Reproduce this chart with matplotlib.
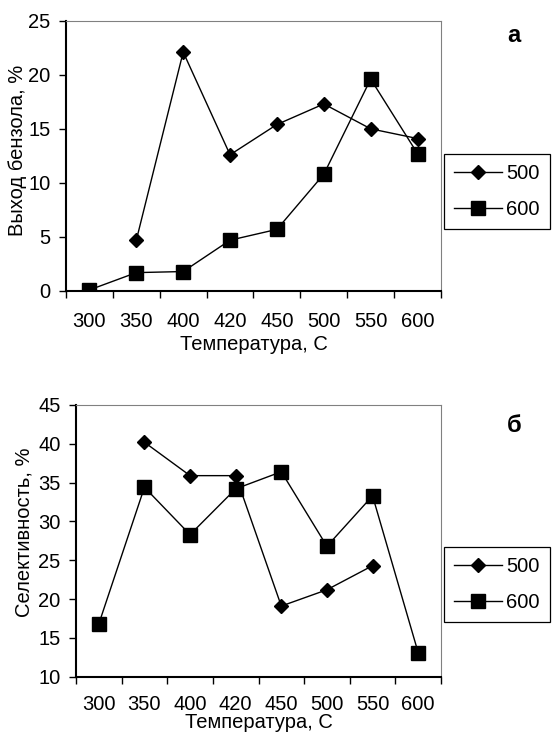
import matplotlib
matplotlib.use("Agg")
import matplotlib.pyplot as plt
import numpy as np

plt.rcParams['font.family'] = ['Liberation Sans', 'DejaVu Sans']

# category labels along x (temperature, C)
temps = ['300', '350', '400', '420', '450', '500', '550', '600']
series_names = ['500', '600']

# (a) benzene yield, % -- None where no point was plotted
yield_500 = [None, 4.7, 22.1, 12.6, 15.4, 17.3, 15.0, 14.1]
yield_600 = [0.1, 1.7, 1.8, 4.7, 5.7, 10.8, 19.6, 12.7]

# (b) selectivity, %
sel_500 = [None, 40.2, 35.9, 35.9, 19.1, 21.2, 24.3, None]
sel_600 = [16.8, 34.4, 28.3, 34.2, 36.4, 26.8, 33.3, 13.1]

FS = 14.5


def to_arr(vals):
    return np.array([np.nan if v is None else v for v in vals], dtype=float)


def draw_panel(ax, y500, y600, ylim, ystep, xpad):
    x = np.arange(len(temps))
    ax.plot(x, to_arr(y500), color='black', lw=1, marker='D', ms=7, label=series_names[0])
    ax.plot(x, to_arr(y600), color='black', lw=1, marker='s', ms=10, label=series_names[1])

    ax.set_xlim(-0.5, len(temps) - 0.5)
    ax.set_ylim(*ylim)
    ax.set_yticks(np.arange(ylim[0], ylim[1] + 0.1, ystep))

    # excel style: tick marks between categories, labels at centres
    ax.set_xticks(np.arange(len(temps) + 1) - 0.5)
    ax.set_xticklabels([])
    ax.set_xticks(x, minor=True)
    ax.set_xticklabels(temps, minor=True)
    ax.tick_params(axis='x', which='major', direction='out', length=5, width=1, color='black')
    ax.tick_params(axis='x', which='minor', length=0, pad=xpad, labelsize=FS)
    ax.tick_params(axis='y', direction='out', length=5, width=1, pad=6, labelsize=FS)

    for side in ('left', 'bottom'):
        ax.spines[side].set_color('black')
        ax.spines[side].set_linewidth(1.5)
    for side in ('top', 'right'):
        ax.spines[side].set_color('#808080')
        ax.spines[side].set_linewidth(0.8)

    ax.set_xlabel('Температура, С', fontsize=FS, labelpad=3 if xpad > 14 else -1)


W, H = 553, 737
fig = plt.figure(figsize=(W / 100, H / 100), dpi=100)

ax1 = fig.add_axes([66 / W, 1 - 291 / H, 375 / W, 270.3 / H])
draw_panel(ax1, yield_500, yield_600, (0, 25), 5, 15)

ax2 = fig.add_axes([76 / W, 1 - 676.7 / H, 365 / W, 271.7 / H])
draw_panel(ax2, sel_500, sel_600, (10, 45), 5, 13.5)

fig.text(18 / W, 1 - 150 / H, 'Выход бензола, %', rotation=90, ha='center', va='center', fontsize=FS)
fig.text(24 / W, 1 - 532 / H, 'Селективность, %', rotation=90, ha='center', va='center', fontsize=FS)

fig.text(514 / W, 1 - 36 / H, 'а', ha='center', va='center', fontsize=17, fontweight='bold')
fig.text(514 / W, 1 - 425 / H, 'б', ha='center', va='center', fontsize=17, fontweight='bold')

for ax, top in ((ax1, 154), (ax2, 547)):
    leg = ax.legend(loc='upper left', bbox_to_anchor=(444 / W, 1 - top / H),
                    bbox_transform=fig.transFigure, borderaxespad=0, fontsize=FS,
                    handlelength=2.4, handletextpad=0.2, borderpad=0.5,
                    labelspacing=0.85, fancybox=False, framealpha=1)
    leg.get_frame().set_edgecolor('black')
    leg.get_frame().set_linewidth(0.9)

fig.savefig('out.png', dpi=100)
